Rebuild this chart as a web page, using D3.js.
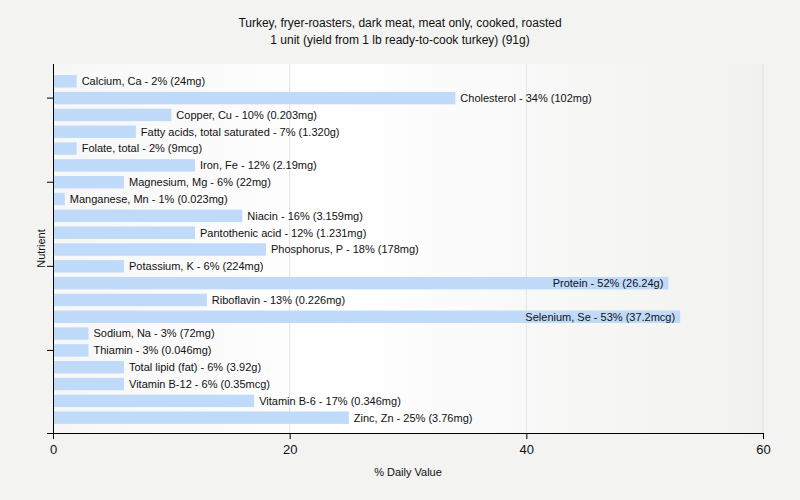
<!DOCTYPE html>
<html>
<head>
<meta charset="utf-8">
<script src="https://cdn.jsdelivr.net/npm/d3@7"></script>
<style>
  html, body { margin: 0; padding: 0; background: #f3f3f2; }
  svg { display: block; }
  text { font-family: "Liberation Sans", Arial, sans-serif; fill: #111; }
</style>
</head>
<body>
<svg id="chart" width="800" height="500"></svg>
<script>
const titleLines = [
  "Turkey, fryer-roasters, dark meat, meat only, cooked, roasted",
  "1 unit (yield from 1 lb ready-to-cook turkey) (91g)"
];
const nutrients = [
  "Calcium, Ca", "Cholesterol", "Copper, Cu", "Fatty acids, total saturated",
  "Folate, total", "Iron, Fe", "Magnesium, Mg", "Manganese, Mn", "Niacin",
  "Pantothenic acid", "Phosphorus, P", "Potassium, K", "Protein", "Riboflavin",
  "Selenium, Se", "Sodium, Na", "Thiamin", "Total lipid (fat)", "Vitamin B-12",
  "Vitamin B-6", "Zinc, Zn"
];
const dailyValue = [2, 34, 10, 7, 2, 12, 6, 1, 16, 12, 18, 6, 52, 13, 53, 3, 3, 6, 6, 17, 25];
const amounts = [
  "24mg", "102mg", "0.203mg", "1.320g", "9mcg", "2.19mg", "22mg", "0.023mg",
  "3.159mg", "1.231mg", "178mg", "224mg", "26.24g", "0.226mg", "37.2mcg",
  "72mg", "0.046mg", "3.92g", "0.35mcg", "0.346mg", "3.76mg"
];
const xTicks = [0, 20, 40, 60];
const xTitle = "% Daily Value";
const yTitle = "Nutrient";

const svg = d3.select("#chart");
const margin = { left: 53, right: 37, top: 64, bottom: 67 };
const W = 800, H = 500;
const plotW = W - margin.left - margin.right;
const plotH = H - margin.top - margin.bottom;

const defs = svg.append("defs");
const grad = defs.append("linearGradient").attr("id", "bg").attr("x1", "0").attr("x2", "1").attr("y1", "0").attr("y2", "0");
grad.append("stop").attr("offset", "0%").attr("stop-color", "#f7f7f7");
grad.append("stop").attr("offset", "40%").attr("stop-color", "#ffffff");
grad.append("stop").attr("offset", "100%").attr("stop-color", "#f1f1f0");

const g = svg.append("g").attr("transform", `translate(${margin.left},${margin.top})`);

g.append("rect").attr("width", plotW).attr("height", plotH).attr("fill", "url(#bg)");

const x = d3.scaleLinear().domain([0, 60]).range([0, plotW]);
const y = d3.scaleBand().domain(nutrients).range([1, plotH + 1]).paddingInner(0.26).paddingOuter(0.6);

// gridlines
g.selectAll("line.grid").data(xTicks.filter(t => t > 0)).enter().append("line")
  .attr("class", "grid")
  .attr("x1", d => x(d)).attr("x2", d => x(d))
  .attr("y1", 0).attr("y2", plotH)
  .attr("stroke", "#e2e2e2").attr("stroke-width", 1);

// bars
g.selectAll("rect.bar").data(nutrients).enter().append("rect")
  .attr("class", "bar")
  .attr("x", 0)
  .attr("y", d => y(d))
  .attr("width", (d, i) => x(dailyValue[i]))
  .attr("height", y.bandwidth())
  .attr("fill", "#c0dafa");

// labels
g.selectAll("text.lbl").data(nutrients).enter().append("text")
  .attr("class", "lbl")
  .attr("y", d => y(d) + y.bandwidth() / 2)
  .attr("dy", "0.35em")
  .style("font-size", "11px")
  .text((d, i) => `${d} - ${dailyValue[i]}% (${amounts[i]})`)
  .each(function (d, i) {
    const t = d3.select(this);
    const w = this.getComputedTextLength();
    const end = x(dailyValue[i]);
    if (end + 5 + w > plotW) {
      t.attr("x", end - 5).attr("text-anchor", "end");
    } else {
      t.attr("x", end + 5).attr("text-anchor", "start");
    }
  });

// x axis
const xAxis = g.append("g").attr("transform", `translate(0,${plotH})`)
  .call(d3.axisBottom(x).tickValues(xTicks).tickSize(6).tickSizeOuter(0).tickFormat(d3.format("d")));
xAxis.select(".domain").remove();
xAxis.append("line").attr("x1", -6).attr("x2", plotW).attr("y1", 0.5).attr("y2", 0.5).attr("stroke", "#000");
xAxis.selectAll(".tick line").attr("stroke", "#000");
xAxis.selectAll(".tick text").style("font-size", "13px").attr("fill", "#111").attr("dy", "0.9em")
  .style("font-family", "Liberation Sans, Arial, sans-serif");

// y axis
const yTickCats = nutrients.filter((d, i) => i % 5 === 1);
const yAxis = g.append("g")
  .call(d3.axisLeft(y).tickValues(yTickCats).tickSize(6).tickSizeOuter(0).tickFormat(""));
yAxis.select(".domain").remove();
yAxis.append("line").attr("x1", 0.5).attr("x2", 0.5).attr("y1", 0).attr("y2", plotH + 6).attr("stroke", "#000");
yAxis.selectAll(".tick line").attr("stroke", "#000");

// titles
svg.append("text").attr("x", 400).attr("y", 27).attr("text-anchor", "middle").style("font-size", "12px").text(titleLines[0]);
svg.append("text").attr("x", 400).attr("y", 44).attr("text-anchor", "middle").style("font-size", "12px").text(titleLines[1]);

svg.append("text").attr("x", margin.left + plotW / 2).attr("y", 476).attr("text-anchor", "middle").style("font-size", "11px").text(xTitle);
svg.append("text").attr("transform", `translate(45,${margin.top + plotH / 2}) rotate(-90)`).attr("text-anchor", "middle").style("font-size", "11px").text(yTitle);
</script>
</body>
</html>
